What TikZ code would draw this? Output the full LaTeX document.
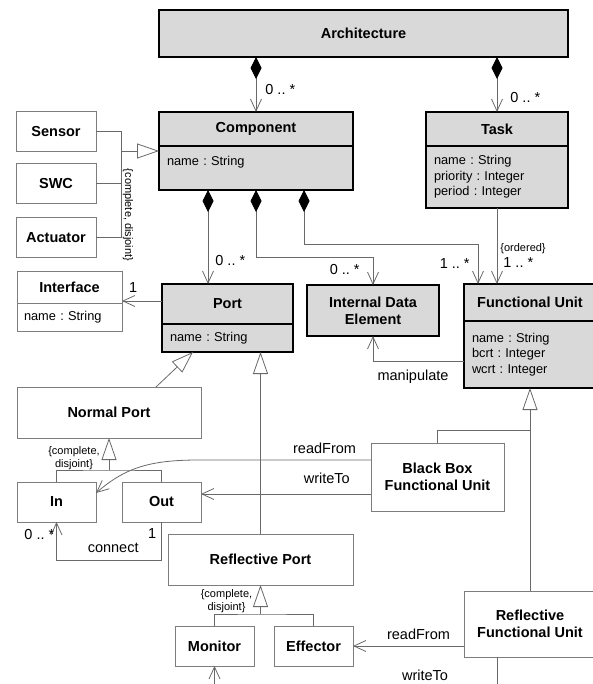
\documentclass[tikz,border=0pt]{standalone}
\usepackage{fontspec}
\setmainfont{Liberation Sans}
\usetikzlibrary{positioning, arrows.meta}

\definecolor{boxfill}{RGB}{217,217,217}
\definecolor{linecol}{RGB}{105,105,105}
\definecolor{boxline}{RGB}{125,125,125}

\newcommand{\ttlfont}{\fontsize{14.5bp}{17bp}\selectfont\bfseries}
\newcommand{\attfont}{\fontsize{12.8bp}{15.5bp}\selectfont}
\newcommand{\lblfont}{\fontsize{14.5bp}{17bp}\selectfont}
\newcommand{\notefont}{\fontsize{11bp}{13bp}\selectfont}

\tikzset{
  cls/.style={draw=black, line width=1.6bp, fill=boxfill, font=\ttlfont, align=center, inner sep=0pt, outer sep=0pt},
  att/.style={draw=black, line width=1.6bp, fill=boxfill, font=\attfont, align=left, inner xsep=8bp, inner ysep=0pt, outer sep=0pt},
  box/.style={draw=boxline, line width=0.8bp, fill=white, font=\ttlfont, align=center, inner sep=0pt, outer sep=0pt},
  lbl/.style={font=\lblfont, inner sep=2bp},
  note/.style={font=\notefont, inner sep=1bp, align=center},
  line/.style={draw=linecol, line width=0.8bp},
  assoc/.style={line, -{Straight Barb[length=12bp, width=11bp]}},
  compos/.style={line, {Diamond[length=22bp, width=11bp, color=black, fill=black]}-{Straight Barb[length=12bp, width=11bp]}},
  gen/.style={line, -{Triangle[length=22bp, width=15bp, fill=white]}}
}

\begin{document}
\frenchspacing
\begin{tikzpicture}[x=1bp, y=-1bp]
  \useasboundingbox (0,0) rectangle (593,684);
  \clip (0,0) rectangle (593,684);

  % classes with compartments
  \node[cls, minimum width=409bp, minimum height=47bp] (arch) at (363.5,33.5) {Architecture};

  \node[cls, minimum width=194bp, minimum height=34bp] (comp) at (256,129) {Component};
  \node[att, text width=178bp, minimum height=44bp, text depth=14bp, below=0pt of comp] (compattr) {name : String};

  \node[cls, minimum width=142bp, minimum height=34bp] (task) at (497,129) {Task};
  \node[att, text width=126bp, minimum height=62bp, below=0pt of task] (taskattr) {name : String\\priority : Integer\\period : Integer};

  \node[cls, minimum width=131bp, minimum height=40bp] (port) at (227.5,304) {Port};
  \node[att, text width=115bp, minimum height=28bp, below=0pt of port] (portattr) {name : String};

  \node[box, minimum width=105bp, minimum height=32bp] (iface) at (69.5,287) {Interface};
  \node[box, font=\attfont, align=left, inner xsep=7bp, text width=91bp, minimum height=28bp, below=0pt of iface] (ifaceattr) {name : String};

  \node[cls, minimum width=132bp, minimum height=51bp] (ide) at (373,310.5) {Internal Data\\Element};

  \node[cls, minimum width=132bp, minimum height=37bp] (fu) at (530,302.5) {Functional Unit};
  \node[att, text width=116bp, minimum height=67bp, below=0pt of fu] (fuattr) {name : String\\bcrt : Integer\\wcrt : Integer};

  % plain classes
  \node[box, minimum width=80bp, minimum height=40bp] (sensor) at (56,131.5) {Sensor};
  \node[box, minimum width=80bp, minimum height=40bp] (swc) at (56,183.5) {SWC};
  \node[box, minimum width=80bp, minimum height=40bp] (act) at (56,237.5) {Actuator};

  \node[box, minimum width=184bp, minimum height=51bp] (np) at (109,412.5) {Normal Port};
  \node[box, minimum width=79bp, minimum height=40bp] (inp) at (56.5,502) {In};
  \node[box, minimum width=79bp, minimum height=40bp] (outp) at (161.5,502) {Out};
  \node[box, minimum width=133bp, minimum height=68bp] (bbfu) at (437.5,477) {Black Box\\Functional Unit};
  \node[box, minimum width=185bp, minimum height=51bp] (rp) at (260.5,559.5) {Reflective Port};
  \node[box, minimum width=79bp, minimum height=40bp] (mon) at (214.5,646) {Monitor};
  \node[box, minimum width=79bp, minimum height=40bp] (eff) at (313.5,646) {Effector};
  \node[box, minimum width=132bp, minimum height=66bp] (rfu) at (530,624) {Reflective\\Functional Unit};

  % composition
  \draw[compos] (comp.north |- arch.south) -- (comp.north) node[lbl, pos=0.6, right=7bp] {0 .. *};
  \draw[compos] (task.north |- arch.south) -- (task.north) node[lbl, pos=0.73, right=11bp] {0 .. *};

  \coordinate (cd1) at ([xshift=-48bp]compattr.south);
  \coordinate (cd2) at (compattr.south);
  \coordinate (cd3) at ([xshift=48bp]compattr.south);
  \coordinate (fuin) at ([xshift=-52bp]fu.north);
  \draw[compos] (cd1) -- (cd1 |- port.north) node[lbl, pos=0.75, right=5bp] {0 .. *};
  \draw[compos] (cd2) |- ([yshift=28bp]ide.north) -- (ide.north) node[lbl, pos=0.46, left=11bp] {0 .. *};
  \draw[compos] (cd3) |- ([yshift=40bp]fuin) -- (fuin) node[lbl, pos=0.48, left=6bp] {1 .. *};

  % associations
  \draw[assoc] (taskattr.south) -- (taskattr.south |- fu.north)
    node[note, pos=0.53, right=2bp] {\{ordered\}}
    node[lbl, pos=0.72, right=4bp] {1 .. *};

  \coordinate (pi) at ([yshift=3bp]port.west);
  \draw[assoc] (pi) -- (pi -| iface.east) node[lbl, pos=0.72, above=6bp] {1};

  \coordinate (mp) at ([yshift=-6.5bp]fuattr.west);
  \draw[assoc] (mp) -| (ide.south) node[lbl, pos=0.28, below=7bp] {manipulate};

  \coordinate (rf) at ([yshift=17bp]bbfu.west);
  \draw[assoc] (rf) -- ++(-172,0) node[lbl, pos=0.27, above=4bp] {readFrom}
    .. controls +(-50,0) and +(29,-25) .. ([yshift=9bp]inp.east);
  \coordinate (wt) at ([yshift=-17bp]bbfu.west);
  \draw[assoc] (wt) -- (wt -| outp.east) node[lbl, pos=0.26, above=8bp] {writeTo};

  \draw[assoc] (outp.south) -- ++(0,38) -| (inp.south) node[lbl, pos=0.23, above=5bp] {connect};
  \node[lbl, anchor=east] (cin) at ([yshift=-13bp]inp.south) {0 .. *};
  \node[lbl, anchor=east] (cout) at ([xshift=-3bp, yshift=-12bp]outp.south) {1};

  \draw[assoc] (rfu.west |- eff.east) -- (eff.east) node[lbl, pos=0.41, above=4bp] {readFrom};
  \draw[assoc] ([xshift=-33bp]rfu.south) -- ++(0,50) -| (mon.south);
  \node[lbl] (wtm) at ([xshift=-105bp, yshift=-18bp]rfu.south) {writeTo};

  % generalization
  \coordinate (cj) at (121,151);
  \draw[line] (sensor.east) -| (cj);
  \draw[line] (swc.east) -| (cj);
  \draw[line] (act.east) -| (cj);
  \draw[gen] (cj) -- (cj -| comp.west);
  \node[note, rotate=-90] (cdj) at (128,215) {\{complete, disjoint\}};

  \draw[gen] ([xshift=47bp]np.north) -- ([xshift=-34.5bp]portattr.south);
  \draw[gen] (rp.north) -- (rp.north |- portattr.south);

  \coordinate (nj) at ([yshift=-32bp]np.south);
  \draw[gen] (nj) -- (np.south);
  \draw[line] (inp.north) |- (nj) -| (outp.north);
  \node[note] (ncd) at ([xshift=-35bp, yshift=12bp]nj) {\{complete,\\disjoint\}};

  \coordinate (rj) at ([yshift=-29bp]rp.south);
  \draw[gen] (rj) -- (rp.south);
  \draw[line] (mon.north) |- (rj) -| (eff.north);
  \node[note] (rcd) at ([xshift=-34bp, yshift=13bp]rj) {\{complete,\\disjoint\}};

  \coordinate (fj) at ([yshift=-42bp]fuattr.south);
  \draw[gen] (rfu.north) -- (fuattr.south);
  \draw[line] (bbfu.north) |- (fj);
\end{tikzpicture}
\end{document}
